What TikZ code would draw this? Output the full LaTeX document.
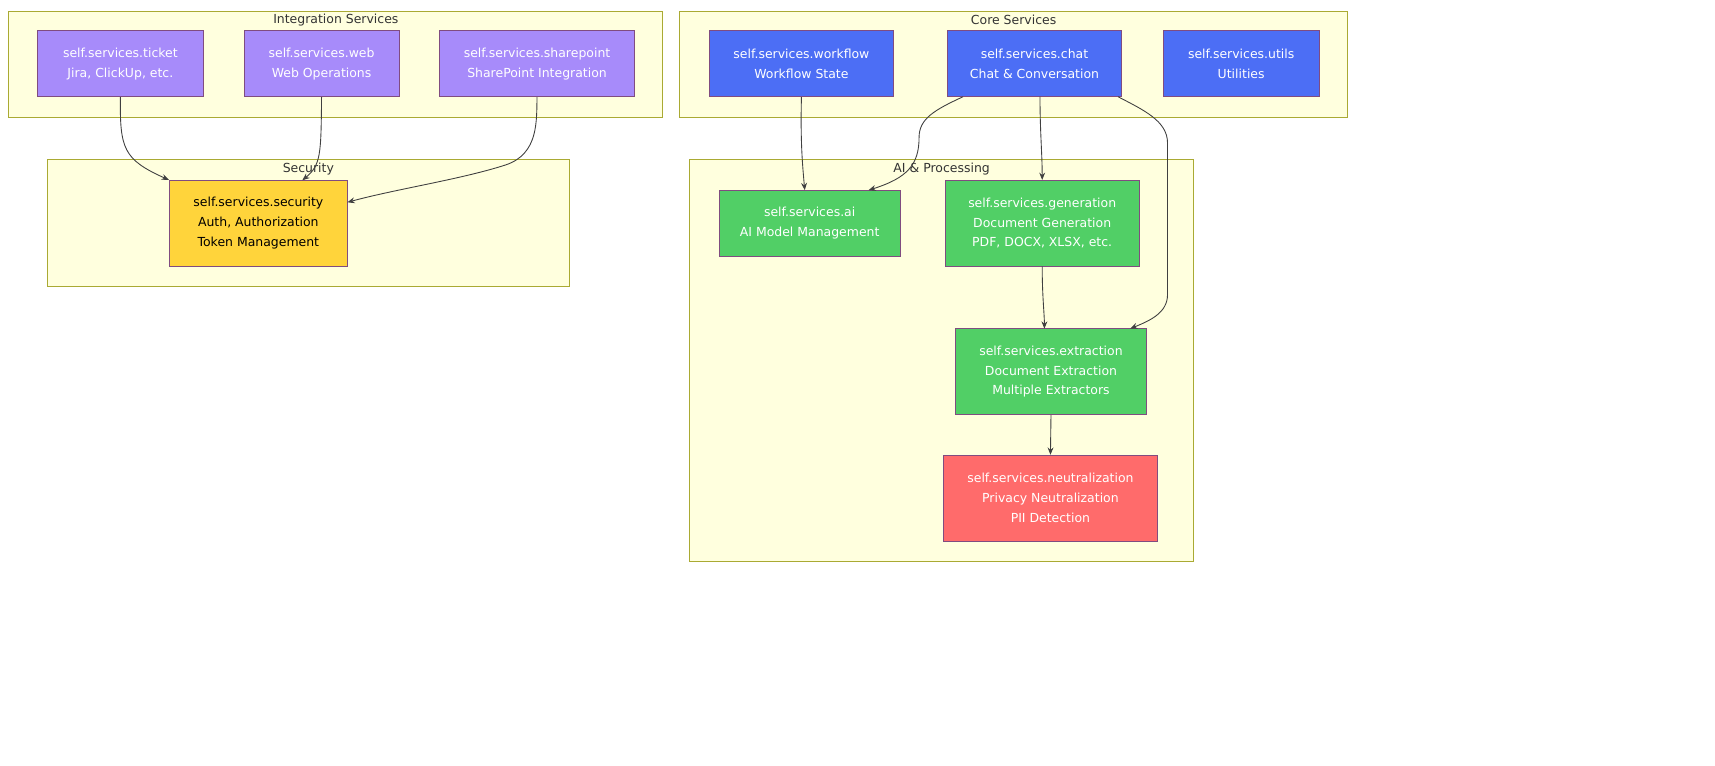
\documentclass[tikz,border=0pt]{standalone}
\usepackage{fontspec}
\setmainfont{DejaVu Sans}
\usetikzlibrary{arrows.meta}
\begin{document}
\begin{tikzpicture}[x=0.75pt,y=-0.75pt,
  cluster/.style={draw=black!0!yellow!60!black!70, fill=yellow!12, line width=0.6pt, inner sep=0},
  ctitle/.style={font=\fontsize{8.5}{10}\selectfont, text=black!80},
  box/.style={draw=violet!40!gray, line width=0.5pt, align=center, text=white, font=\fontsize{8.5}{13.5}\selectfont, inner sep=0},
  purp/.style={box, fill=purpleC},
  blu/.style={box, fill=blueC},
  grn/.style={box, fill=greenC},
  edge/.style={draw=black!75, line width=0.6pt, -{Stealth[length=5pt,width=4pt]}}]
\definecolor{purpleC}{HTML}{A78BFA}
\definecolor{blueC}{HTML}{4C6EF5}
\definecolor{greenC}{HTML}{51CF66}
\definecolor{yellowC}{HTML}{FFD43B}
\definecolor{redC}{HTML}{FF6B6B}
\definecolor{clF}{HTML}{FFFFDE}
\definecolor{clD}{HTML}{AAAA33}
\tikzset{cluster/.style={draw=clD, fill=clF, line width=0.6pt}}
\useasboundingbox[fill=white] (0,0) rectangle (1560,696);
% clusters
\draw[cluster] (8,10) rectangle (603,107);
\node[ctitle] (t1) at (305.5,18.5) {Integration Services};
\draw[cluster] (618,10) rectangle (1226,107);
\node[ctitle] (t2) at (922,18.5) {Core Services};
\draw[cluster] (43,145) rectangle (518,261);
\node[ctitle] (t3) at (280.5,154) {Security};
\draw[cluster] (627,145) rectangle (1086,511);
\node[ctitle] (t4) at (856.5,154) {AI \& Processing};
% nodes
\node[purp, minimum width=113.25pt, minimum height=45pt] (ticket) at (109.5,58) {self.services.ticket\\Jira, ClickUp, etc.};
\node[purp, minimum width=105.75pt, minimum height=45pt] (web) at (292.5,58) {self.services.web\\Web Operations};
\node[purp, minimum width=132.75pt, minimum height=45pt] (sharepoint) at (488.5,58) {self.services.sharepoint\\SharePoint Integration};
\node[blu, minimum width=126pt, minimum height=45pt] (workflow) at (729,58) {self.services.workflow\\Workflow State};
\node[blu, minimum width=118.5pt, minimum height=45pt] (chat) at (941,58) {self.services.chat\\Chat \& Conversation};
\node[blu, minimum width=106.5pt, minimum height=45pt] (utils) at (1129,58) {self.services.utils\\Utilities};
\node[box, fill=yellowC, text=black, minimum width=121.5pt, minimum height=58.5pt] (security) at (235,203) {self.services.security\\Auth, Authorization\\Token Management};
\node[grn, minimum width=123.75pt, minimum height=45pt] (ai) at (736.5,203) {self.services.ai\\AI Model Management};
\node[grn, minimum width=132pt, minimum height=58.5pt] (generation) at (948,203) {self.services.generation\\Document Generation\\PDF, DOCX, XLSX, etc.};
\node[grn, minimum width=130.5pt, minimum height=58.5pt] (extraction) at (956,338) {self.services.extraction\\Document Extraction\\Multiple Extractors};
\node[box, fill=redC, minimum width=146.25pt, minimum height=58.5pt] (neutralization) at (955.5,453) {self.services.neutralization\\Privacy Neutralization\\PII Detection};
% edges
\draw[edge] (ticket.south) .. controls (109,135) and (112,145) .. (security.north west);
\draw[edge] (web.south) .. controls (292,140) and (292,150) .. (275,164);
\draw[edge] (sharepoint.south) .. controls (488,110) and (490,140) .. (460,150) .. controls (420,163) and (360,172) .. (316,184);
\draw[edge] (workflow.south) .. controls (728,130) and (730,150) .. (732,173);
\draw[edge] (876,88) .. controls (850,100) and (836,108) .. (836,125) .. controls (836,150) and (825,162) .. (790,173);
\draw[edge] (946,88) .. controls (946,120) and (948,140) .. (generation.north);
\draw[edge] (1017,88) .. controls (1040,100) and (1062,110) .. (1062,130) -- (1062,268) .. controls (1062,285) and (1045,292) .. (1028,299);
\draw[edge] (generation.south) .. controls (948,270) and (950,285) .. (950,299);
\draw[edge] (extraction.south) -- (neutralization.north);
\end{tikzpicture}
\end{document}
